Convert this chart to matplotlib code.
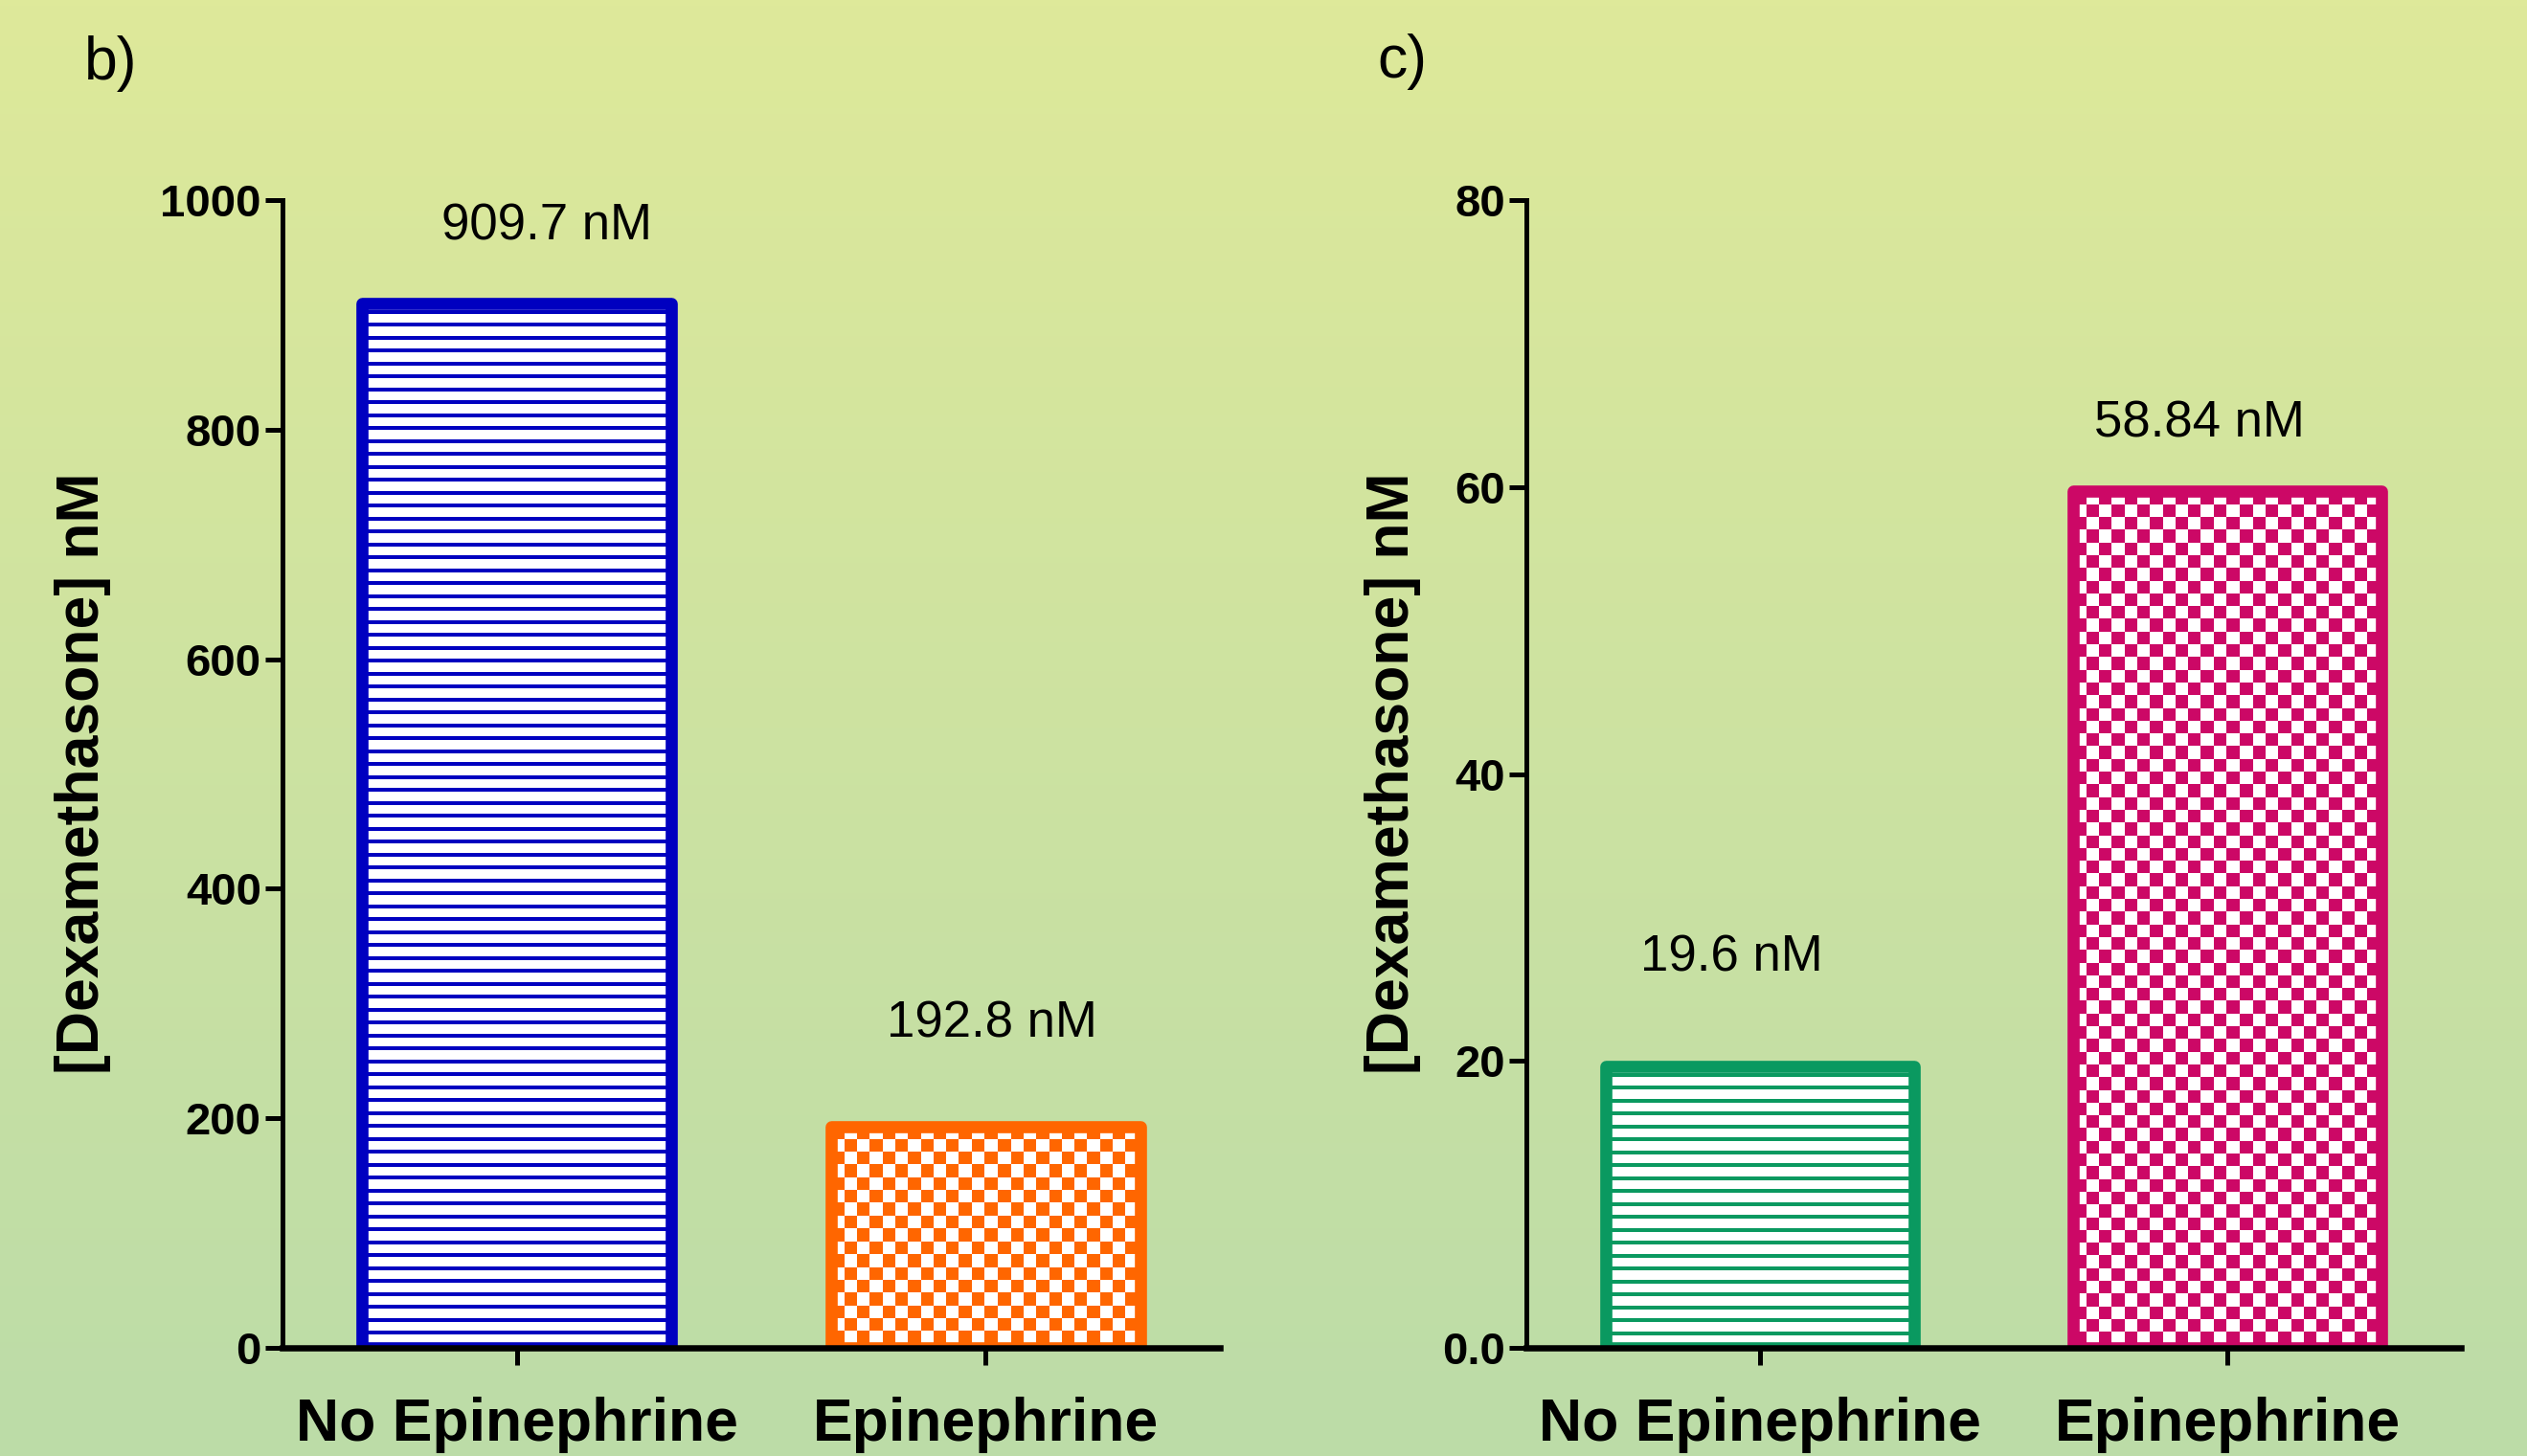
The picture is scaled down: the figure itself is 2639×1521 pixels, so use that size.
import numpy as np
import matplotlib
matplotlib.use('Agg')
import matplotlib.pyplot as plt
from matplotlib.colors import to_rgba

# ---------------- data ----------------
categories = ['No Epinephrine', 'Epinephrine']

b_values = [909.7, 192.8]
b_labels = ['909.7 nM', '192.8 nM']
b_yticks = [0, 200, 400, 600, 800, 1000]
b_yticklabels = ['0', '200', '400', '600', '800', '1000']

c_values = [19.6, 59.7]
c_labels = ['19.6 nM', '58.84 nM']
c_yticks = [0, 20, 40, 60, 80]
c_yticklabels = ['0.0', '20', '40', '60', '80']

ylabel_text = '[Dexamethasone] nM'

# ---------------- layout / style ----------------
W, H = 2639, 1521
DPI = 100
plt.rcParams['font.family'] = ['Liberation Sans', 'DejaVu Sans']

fig = plt.figure(figsize=(W / DPI, H / DPI), dpi=DPI)

# background gradient
bg = fig.add_axes([0, 0, 1, 1], zorder=-10)
top_c = np.array([222, 233, 154]) / 255
bot_c = np.array([188, 220, 168]) / 255
t = np.linspace(0, 1, 256)[:, None]
grad = top_c * (1 - t) + bot_c * t
bg.imshow(grad[:, None, :], aspect='auto', extent=[0, 1, 0, 1])
bg.axis('off')


def pattern_image(kind, color, h_px, w_px):
    rgba = np.array(to_rgba(color))
    img = np.ones((max(h_px, 1), max(w_px, 1), 4))
    r = np.arange(img.shape[0])[:, None]
    c = np.arange(img.shape[1])[None, :]
    if kind == 'lines':
        mask = ((r + 7) % 13.5) < 3.8
        mask = np.broadcast_to(mask, img.shape[:2])
    else:
        cell = 13.3
        mask = ((np.floor(r / cell) + np.floor(c / cell)) % 2) == 0
    img[mask] = rgba
    return img


def panel(rect, values, labels, colors, kinds, yticks, yticklabels, ylim,
          label_xy, letter, letter_xy, ylabel_xy):
    ax = fig.add_axes(rect)
    ax.set_facecolor('none')
    x = np.arange(len(values))
    width = 0.66
    fills = ax.bar(x, values, width, color='white', edgecolor='none', zorder=2)
    px_x = rect[2] * W / 2.0
    px_y = rect[3] * H / (ylim[1] - ylim[0])
    for bar, v, col, kind in zip(fills, values, colors, kinds):
        hpx = int(round(v * px_y))
        wpx = int(round(width * px_x))
        img = pattern_image(kind, col, hpx, wpx)
        x0 = bar.get_x()
        im = ax.imshow(img, extent=[x0, x0 + width, 0, v], origin='upper',
                       interpolation='nearest', aspect='auto', zorder=3)
        im.set_clip_path(bar)
    ax.bar(x, values, width, fill=False, edgecolor=colors, linewidth=9.1,
           joinstyle='round', zorder=4)
    ax.set_xlim(-0.5, 1.5)
    ax.set_ylim(*ylim)

    for s in ('top', 'right'):
        ax.spines[s].set_visible(False)
    ax.spines['left'].set_linewidth(3.6)
    ax.spines['bottom'].set_linewidth(4.7)
    for s in ('left', 'bottom'):
        ax.spines[s].set_capstyle('projecting')
        ax.spines[s].set_zorder(10)

    ax.set_yticks(yticks, yticklabels, fontsize=34, fontweight='bold')
    ax.set_xticks(x, categories, fontsize=45, fontweight='bold')
    ax.tick_params(axis='y', direction='out', length=13, width=3.6, pad=3)
    ax.tick_params(axis='x', direction='out', length=13, width=3.6, pad=24)

    for (lx, ly), lab in zip(label_xy, labels):
        ax.text(lx, ly, lab, ha='center', va='center', fontsize=38)

    fig.text(letter_xy[0] / W, 1 - letter_xy[1] / H, letter, ha='center',
             va='center', fontsize=45)
    fig.text(ylabel_xy[0] / W, 1 - ylabel_xy[1] / H, ylabel_text, rotation=90,
             ha='center', va='center', fontsize=45, fontweight='bold')
    return ax


panel([295 / W, 113 / H, 979 / W, 1199 / H], b_values, b_labels,
      ['#0000C0', '#FF6600'], ['lines', 'checker'],
      b_yticks, b_yticklabels, (0, 1000),
      [(0.063, 977), (1.013, 282)], 'b)', (116, 67), (87, 808))

panel([1594 / W, 113 / H, 976 / W, 1199 / H], c_values, c_labels,
      ['#0A9960', '#CC0866'], ['lines', 'checker'],
      c_yticks, c_yticklabels, (0, 80),
      [(-0.06, 27.2), (0.94, 64.4)], 'c)', (1464, 64), (1454, 808))

fig.savefig('out.png', dpi=DPI)
